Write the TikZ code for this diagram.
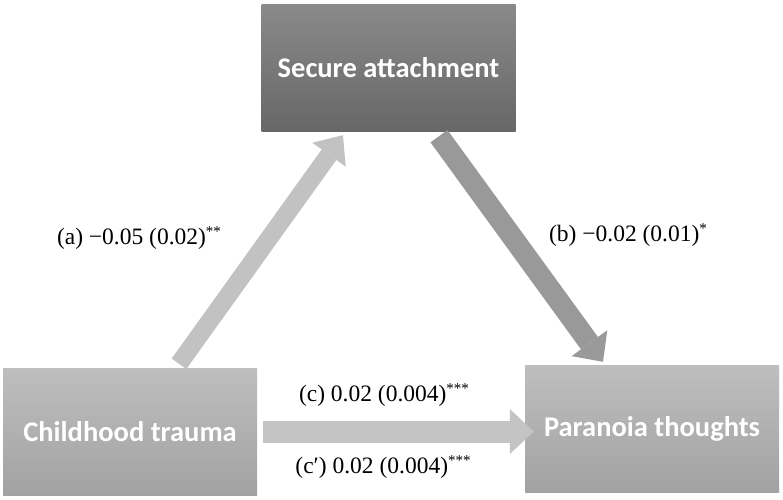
\documentclass[tikz,border=0pt]{standalone}
\usepackage{fontspec}
\setmainfont{Liberation Serif}
\newfontfamily\boxfont{Carlito}
\usetikzlibrary{arrows.meta}
\definecolor{saTop}{HTML}{8A8A8A}
\definecolor{saBot}{HTML}{676767}
\definecolor{ltTop}{HTML}{BEBEBE}
\definecolor{ltBot}{HTML}{A2A2A2}
\definecolor{arrA}{HTML}{C2C2C2}
\definecolor{arrB}{HTML}{999999}
\definecolor{arrC}{HTML}{C4C4C4}
\newcommand{\stars}[1]{\raisebox{0.35em}{\fontsize{15}{15}\selectfont #1}}
\begin{document}
\begin{tikzpicture}[x=1pt,y=-1pt,
  varbox/.style={minimum width=254pt, minimum height=127pt, inner sep=0pt,
    text=white, font=\boxfont\bfseries\fontsize{28.5}{32}\selectfont},
  coef/.style={inner sep=0pt, font=\fontsize{23.5}{26}\selectfont},
  fatarrow/.style n args={3}{line width=#1,
    -{Triangle[width=#2,length=#3,line width=0pt]}}
]
\useasboundingbox[fill=white] (0,0) rectangle (783,499);

\node[varbox, top color=saTop, bottom color=saBot] (sa) at (388.5,67.5) {Secure attachment};
\node[varbox, top color=ltTop, bottom color=ltBot] (ct) at (130,431.5) {Childhood trauma};
\node[varbox, top color=ltTop, bottom color=ltBot] (pt) at (652,428.5) {Paranoia thoughts};

\draw[fatarrow={18pt}{41pt}{24pt}, draw=arrA, fill=arrA]
  ([xshift=49pt,yshift=4pt]ct.north) -- ([xshift=-45.5pt,yshift=-4pt]sa.south);
\draw[fatarrow={21pt}{44pt}{23pt}, draw=arrB, fill=arrB]
  ([xshift=50.5pt,yshift=-5pt]sa.south) -- ([xshift=-49pt,yshift=3pt]pt.north);
\draw[fatarrow={22pt}{45pt}{24pt}, draw=arrC, fill=arrC]
  ([xshift=6pt]ct.east) -- ([xshift=9pt]ct.east -| pt.west);

\node[coef] (la) at (139,238) {(a) −0.05 (0.02)\stars{**}};
\node[coef] (lb) at (628,235) {(b) −0.02 (0.01)\stars{*}};
\node[coef] (lc) at (384,395) {(c) 0.02 (0.004)\stars{***}};
\node[coef] (lcp) at (383,467) {(c′) 0.02 (0.004)\stars{***}};
\end{tikzpicture}
\end{document}
